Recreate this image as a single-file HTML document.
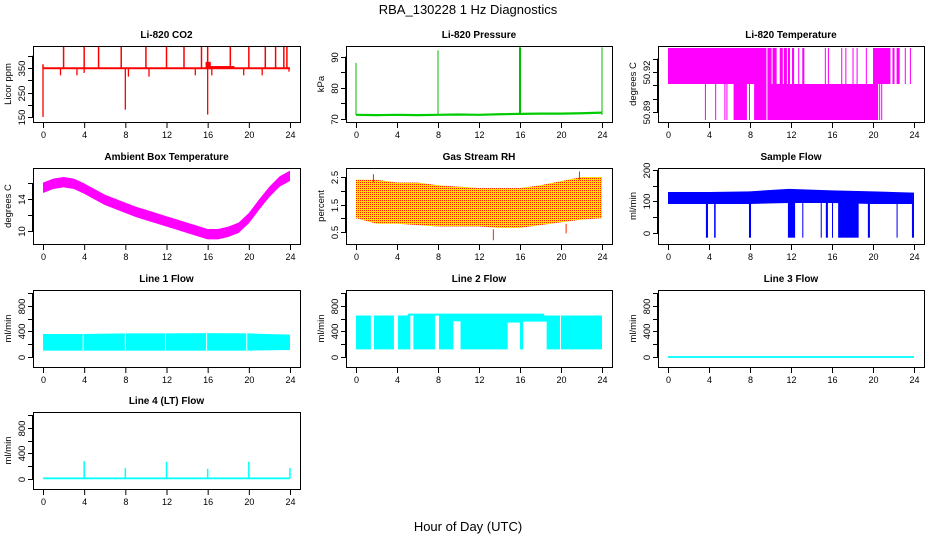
<!DOCTYPE html>
<html><head><meta charset="utf-8"><style>
html,body{margin:0;padding:0;background:#fff}
svg{display:block;font-family:"Liberation Sans",Arial,sans-serif}
</style></head><body>
<svg id="fig" width="936" height="540" viewBox="0 0 936 540" xmlns="http://www.w3.org/2000/svg">
<defs>
<pattern id="rhpat" width="2" height="2" patternUnits="userSpaceOnUse"><rect width="2" height="2" fill="#ffdd00"/><rect width="1" height="1" fill="#ff2000"/></pattern>
</defs>
<text x="468" y="14" text-anchor="middle" font-size="13">RBA_130228  1 Hz Diagnostics</text>
<text x="468" y="531" text-anchor="middle" font-size="13">Hour of Day (UTC)</text>
</svg>
<script>
// ---- data ----
const xTicks = [0,4,8,12,16,20,24];
const co2Base = 350;
const co2SpikeHours = [0,2,4,5.4,7.6,10,12,13.7,15.4,16,18.2,20,21.6,22.6,23.4,23.7];
const co2SpikeVals  = [365,440,440,440,440,440,440,440,440,440,440,440,440,440,440,440];
const co2DipHours = [0,1.7,3.3,4,8,8.3,10.3,14.8,16,16.4,19.5,21.3,23.9];
const co2DipVals  = [150,320,320,330,180,315,315,320,160,320,320,320,335];
const presHours = [0,2,4,6,8,10,12,14,16,18,20,22,24];
const presVals  = [71.3,71.2,71.3,71.2,71.3,71.4,71.3,71.5,71.6,71.7,71.7,71.8,72.0];
const presSpikeHours = [0,8,16,24];
const presSpikeVals  = [88,92,93,93];
const tempLevels = [50.884,50.911,50.938];
const tempUpperOn = [[0,9.6],[9.7,10.1],[10.2,10.6],[10.9,11.2],[11.3,11.6],[11.7,11.9],[12.1,12.3],[12.7,12.8],[13.1,13.3],[15.3,15.4],[15.6,15.7],[16.9,17.0],[17.3,17.4],[18.0,18.1],[18.4,18.5],[19.3,19.4],[20.0,21.7],[21.9,22.1],[22.3,22.6],[23.1,23.2],[23.6,23.7]];
const tempLowerOn = [[3.6,3.7],[4.6,4.7],[5.5,5.6],[5.7,5.8],[6.4,7.7],[7.9,8.0],[8.4,9.6],[9.7,20.5],[20.6,20.7],[20.8,20.9]];
const ambHours = [0,1,2,3,4,5,6,7,8,9,10,11,12,13,14,15,16,17,18,19,20,21,22,23,24];
const ambVals  = [15.4,15.9,16.1,15.9,15.3,14.6,13.9,13.4,12.9,12.4,12.0,11.6,11.2,10.8,10.4,10.0,9.6,9.6,9.9,10.4,11.6,13.3,14.9,16.2,16.9];
const ambHalfWidth = 0.65;
const rhHours = [0,2,4,6,8,10,12,14,16,18,20,22,24];
const rhHi = [2.4,2.4,2.3,2.3,2.2,2.15,2.1,2.1,2.1,2.2,2.35,2.5,2.5];
const rhLo = [1.0,0.8,0.8,0.75,0.7,0.7,0.7,0.65,0.65,0.75,0.85,0.95,1.0];
const sfHours = [0,4,8,11.8,16,20,24];
const sfHi = [130,130,132,140,135,132,128];
const sfLo = [92,92,92,95,95,92,92];
const sfDrops = [[3.7,3.9],[4.5,4.65],[7.9,8.1],[11.7,12.4],[13.1,13.2],[14.9,15.0],[15.4,15.6],[16.0,16.1],[16.6,18.6],[19.5,19.7],[22.3,22.4],[23.8,24]];
const l1Hours = [0,4,8,12,16,20,24];
const l1Hi = [360,360,370,370,375,370,350];
const l1Lo = [100,100,100,100,100,100,110];
const l1Gaps = [3.9,8.0,11.9,15.9,19.8];
const l2Hours = [0,5,5.1,18.3,18.4,24];
const l2Hi = [650,650,680,680,650,650];
const l2Lo = 120;
const l2Gaps = [[1.45,1.75,650],[3.7,4.1,650],[5.3,5.6,650],[7.7,8.1,650],[9.5,10.2,560],[14.8,16.0,540],[16.3,18.6,555],[19.9,20.0,650]];
const l3Val = 0;
const l4Base = 10;
const l4SpikeHours = [4,8,12,16,20,24];
const l4SpikeVals = [280,170,270,160,270,170];

// ---- layout ----
const svg = document.getElementById('fig');
const NS = 'http://www.w3.org/2000/svg';
function mk(tag, attrs, parent){const e=document.createElementNS(NS,tag);for(const k in attrs)e.setAttribute(k,attrs[k]);(parent||svg).appendChild(e);return e;}
const colX = [[33,300],[346,612],[658,924]];
const rowY = [[46,122],[168,244],[290,367],[412,489]];
function panel(c,r,title,ylab,ymin,ymax,ticks,labels,name){
  const [x0,x1]=colX[c],[y0,y1]=rowY[r];
  const g=mk('g',{});
  
  
  const hx0=x0+10,hx1=x1-10;
  const xs=h=>hx0+(hx1-hx0)*h/24;
  const ys=v=>y1-(v-ymin)/(ymax-ymin)*(y1-y0);
  const plot=mk('g',{},g);
  
  
  const axes=mk('g',{stroke:'#000','stroke-width':1,fill:'none'},g);
  mk('rect',{x:x0+.5,y:y0+.5,width:x1-x0,height:y1-y0},axes);
  mk('line',{x1:xs(0),x2:xs(24),y1:y1+.5,y2:y1+.5},axes);
  xTicks.forEach(t=>{mk('line',{x1:xs(t)+.5,x2:xs(t)+.5,y1:y1,y2:y1+6},axes);
    const tx=mk('text',{x:xs(t)+.5,y:y1+16,'text-anchor':'middle','font-size':9,fill:'#000',stroke:'none'},g);tx.textContent=t;
    
    });
  ticks.forEach(t=>{const y=Math.round(ys(t))+.5;mk('line',{x1:x0-5,x2:x0,y1:y,y2:y},axes);
    if(labels.includes(t)){const tx=mk('text',{x:0,y:0,transform:`translate(${x0-8},${y}) rotate(-90)`,'text-anchor':'middle','font-size':9.5,fill:'#000'},g);tx.textContent=t;
      
      }});
  mk('line',{x1:x0-.5,x2:x0-.5,y1:ys(ticks[0]),y2:ys(ticks[ticks.length-1])},axes);
  const tt=mk('text',{x:(x0+x1)/2,y:y0-8,'text-anchor':'middle','font-size':10,'font-weight':'bold'},g);tt.textContent=title;
  
  
  const yl=mk('text',{x:0,y:0,transform:`translate(${x0-22},${(y0+y1)/2}) rotate(-90)`,'text-anchor':'middle','font-size':9.5},g);yl.textContent=ylab;
  
  
  return {xs,ys,plot};
}
function vline(p,h,a,b,col,w){mk('line',{x1:p.xs(h),x2:p.xs(h),y1:p.ys(a),y2:p.ys(b),stroke:col,'stroke-width':w||1.3},p.plot);}
function band(p,hours,lo,hi,fill){let d='M'+hours.map((h,i)=>p.xs(h)+','+p.ys(hi[i])).join('L');
  for(let i=hours.length-1;i>=0;i--)d+='L'+p.xs(hours[i])+','+p.ys(lo[i]);mk('path',{d:d+'Z',fill:fill},p.plot);}
function hrect(p,a,b,lo,hi,fill){mk('rect',{x:p.xs(a),y:p.ys(hi),width:Math.max(1,p.xs(b)-p.xs(a)),height:p.ys(lo)-p.ys(hi),fill:fill},p.plot);}

// CO2
let p=panel(0,0,'Li-820 CO2','Licor ppm',129.6,439.8,[150,200,250,300,350,400],[150,250,350],'co2');
hrect(p,0,24,co2Base-5,co2Base+3,'#ff0000');
co2SpikeHours.forEach((h,i)=>vline(p,h,co2Base,co2SpikeVals[i],'#ff0000',1.5));
co2DipHours.forEach((h,i)=>vline(p,h,co2Base,co2DipVals[i],'#ff0000',1.3));
hrect(p,15.8,16.3,co2Base-5,co2Base+25,'#ff0000');hrect(p,16,18.6,co2Base-3,co2Base+8,'#ff0000');
// Pressure
p=panel(1,0,'Li-820 Pressure','kPa',69.0,93.4,[70,75,80,85,90],[70,80,90],'pressure');
let pd='M'+presHours.map((h,i)=>p.xs(h)+','+p.ys(presVals[i])).join('L');
mk('path',{d:pd,stroke:'#00cc00','stroke-width':2.2,fill:'none'},p.plot);
presSpikeHours.forEach((h,i)=>vline(p,h,presVals[0],presSpikeVals[i],'#00bb00',i==2?2:1));
// Temperature
p=panel(2,0,'Li-820 Temperature','degrees C',50.8825,50.9395,[50.89,50.9,50.91,50.92,50.93],[50.89,50.92],'temperature');
tempUpperOn.forEach(s=>hrect(p,s[0],s[1],tempLevels[1],tempLevels[2],'#ff00ff'));
tempLowerOn.forEach(s=>hrect(p,s[0],s[1],tempLevels[0],tempLevels[1],'#ff00ff'));
// Ambient
p=panel(0,1,'Ambient Box Temperature','degrees C',8.375,17.875,[10,12,14,16],[10,14],'ambient-temp');
band(p,ambHours,ambVals.map(v=>v-ambHalfWidth),ambVals.map(v=>v+ambHalfWidth),'#ff00ff');
// RH
p=panel(1,1,'Gas Stream RH','percent',0.064,2.827,[0.5,1,1.5,2,2.5],[0.5,1.5,2.5],'gas-rh');
band(p,rhHours,rhLo,rhHi,'url(#rhpat)');
vline(p,13.4,0.6,0.2,'#ff2000',1);vline(p,20.5,0.8,0.45,'#ff2000',1);vline(p,1.7,2.3,2.6,'#ff2000',1);vline(p,21.8,2.4,2.7,'#ff2000',1);
// Sample flow
p=panel(2,1,'Sample Flow','ml/min',-35,206,[0,50,100,150,200],[0,100,200],'sample-flow');
band(p,sfHours,sfLo,sfHi,'#0000ff');
sfDrops.forEach(s=>hrect(p,s[0],s[1],-15,100,'#0000ff'));
// Line 1
p=panel(0,2,'Line 1 Flow','ml/min',-157,1051,[0,200,400,600,800,1000],[0,400,800],'line1-flow');
band(p,l1Hours,l1Lo,l1Hi,'#00ffff');
l1Gaps.forEach(h=>vline(p,h,l1Lo[0],380,'#ffffff',1));
// Line 2
p=panel(1,2,'Line 2 Flow','ml/min',-157,1051,[0,200,400,600,800,1000],[0,400,800],'line2-flow');
band(p,l2Hours,l2Hours.map(()=>l2Lo),l2Hi,'#00ffff');
l2Gaps.forEach(g=>hrect(p,g[0],g[1],l2Lo-10,g[2],'#ffffff'));
// Line 3
p=panel(2,2,'Line 3 Flow','ml/min',-157,1051,[0,200,400,600,800,1000],[0,400,800],'line3-flow');
hrect(p,0,24,l3Val-14,l3Val+14,'#00ffff');
// Line 4
p=panel(0,3,'Line 4 (LT) Flow','ml/min',-157,1051,[0,200,400,600,800,1000],[0,400,800],'line4-flow');
hrect(p,0,24,l4Base-14,l4Base+14,'#00ffff');
l4SpikeHours.forEach((h,i)=>vline(p,h,l4Base,l4SpikeVals[i],'#00ffff',1.5));
</script>
</body></html>
